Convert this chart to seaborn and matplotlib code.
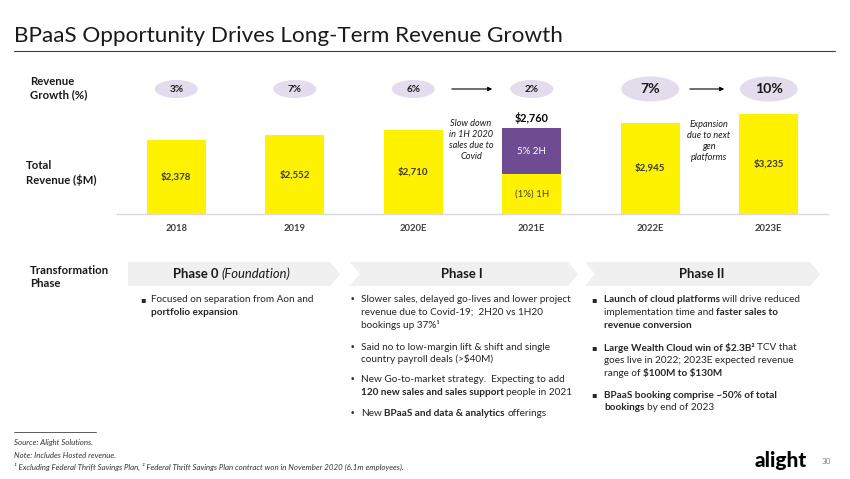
import matplotlib
matplotlib.use("Agg")
import matplotlib.pyplot as plt
import seaborn as sns
import pandas as pd
from matplotlib.patches import Ellipse, Polygon

# ---------------- data ----------------
years = ["2018", "2019", "2020E", "2021E", "2022E", "2023E"]
revenue = [2378, 2552, 2710, 2760, 2945, 3235]
growth = ["3%", "7%", "6%", "2%", "7%", "10%"]
split_year = "2021E"
first_half_2021 = 1300          # yellow 1H portion of the 2021E bar
split_labels = ["(1%) 1H", "5% 2H"]
phase_titles = [[("Phase 0", "bold", "normal"), (" (Foundation)", "normal", "italic")],
                [("Phase I", "bold", "normal")],
                [("Phase II", "bold", "normal")]]

YELLOW = "#FFF200"
PURPLE = "#6F4C91"
LAVENDER = "#E2DCEC"
CHEVRON = "#F0F0F0"
TXT = "#262626"

sns.set_theme(style="white")
plt.rcParams["font.family"] = ["Lato", "DejaVu Sans"]

fig = plt.figure(figsize=(8.5, 4.79), dpi=100)
bg = fig.add_axes([0, 0, 1, 1])
bg.set_xlim(0, 850)
bg.set_ylim(479, 0)
bg.axis("off")

# ---------------- bar chart ----------------
AX_L, AX_R, AX_B, AX_T = 117, 828, 214, 60
ax = fig.add_axes([AX_L / 850, (479 - AX_B) / 479, (AX_R - AX_L) / 850, (AX_B - AX_T) / 479])
ax.patch.set_alpha(0)

df = pd.DataFrame({"year": years, "revenue": revenue})
bar_colors = [PURPLE if y == split_year else YELLOW for y in years]
sns.barplot(data=df, x="year", y="revenue", hue="year", palette=bar_colors,
            dodge=False, width=0.5, legend=False, saturation=1, linewidth=0, ax=ax)
df_half = pd.DataFrame({"year": years,
                        "value": [first_half_2021 if y == split_year else 0 for y in years]})
sns.barplot(data=df_half, x="year", y="value", color=YELLOW, width=0.5,
            saturation=1, linewidth=0, ax=ax)

ax.set_xlim(-0.5, 5.5)
ax.set_ylim(0, 4970)
ax.set_xlabel("")
ax.set_ylabel("")
ax.set_yticks([])
for s in ["top", "left", "right"]:
    ax.spines[s].set_visible(False)
ax.spines["bottom"].set_color("#D9D9D9")
ax.spines["bottom"].set_linewidth(1.0)
ax.tick_params(axis="x", length=0, pad=7, labelsize=6.8, colors="#404040")
for t in ax.get_xticklabels():
    t.set_fontweight("bold")

for i, (y, v) in enumerate(zip(years, revenue)):
    lab = "\\$" + f"{v:,}"
    if y == split_year:
        ax.annotate(lab, (i, v), xytext=(0, 3), textcoords="offset points",
                    ha="center", va="bottom", fontsize=7.8, fontweight="bold", color="black")
        ax.text(i, first_half_2021 / 2, split_labels[0], ha="center", va="center",
                fontsize=7, color="#404040")
        ax.text(i, (first_half_2021 + v) / 2, split_labels[1], ha="center", va="center",
                fontsize=7, color="white")
    else:
        ax.text(i, v / 2, lab, ha="center", va="center", fontsize=7,
                fontweight="bold", color="#3A3A2A")

# ---------------- helpers ----------------
renderer = fig.canvas.get_renderer()


def text_width(s, size, weight, style):
    t = bg.text(0, 0, s, fontsize=size, fontweight=weight, fontstyle=style)
    w = t.get_window_extent(renderer).width
    t.remove()
    return w


def runs(x, y, parts, size, color=TXT, ha="left"):
    texts = []
    cx = x
    for s, w, st in parts:
        sp = text_width("x x", size, w, st) - text_width("xx", size, w, st)
        lead = len(s) - len(s.lstrip(" "))
        trail = len(s) - len(s.rstrip(" "))
        core = s.strip(" ")
        cx += lead * sp
        t = bg.text(cx, y, core, fontsize=size, fontweight=w, fontstyle=st,
                    color=color, va="center", ha="left")
        cx += t.get_window_extent(renderer).width + trail * sp
        texts.append(t)
    if ha == "center":
        total = cx - x
        for t in texts:
            px, py = t.get_position()
            t.set_position((px - total / 2, py))


# ---------------- title ----------------
bg.text(14, 36, "BPaaS Opportunity Drives Long-Term Revenue Growth", fontsize=16.2,
        va="center", ha="left", color="#1A1A1A")
bg.plot([14, 835], [51, 51], color="#404040", lw=0.8)

# ---------------- row labels ----------------
lab_kw = dict(fontsize=8.2, fontweight="bold", color="#1A1A1A", va="center",
              ha="left", linespacing=1.3)
bg.text(30, 88, "Revenue\nGrowth (%)", **lab_kw)
bg.text(26, 173, "Total\nRevenue (\\$M)", **lab_kw)
bg.text(30, 277, "Transformation\nPhase", **lab_kw)

# ---------------- growth ellipses ----------------
step = (AX_R - AX_L) / len(years)
for i, g in enumerate(growth):
    cx = AX_L + (i + 0.5) * step
    big = i >= 4
    w, h = (58, 25) if big else (43, 18)
    bg.add_patch(Ellipse((cx, 89), w, h, facecolor=LAVENDER, edgecolor="none"))
    bg.text(cx, 89, g, ha="center", va="center", fontsize=10.2 if big else 7.2,
            fontweight="bold", color="#1A1A1A")

arrow = dict(arrowstyle="-|>", color="black", lw=0.8, mutation_scale=6)
bg.annotate("", xy=(495, 89), xytext=(449, 89), arrowprops=arrow)
bg.annotate("", xy=(727, 89), xytext=(687, 89), arrowprops=arrow)

note_kw = dict(ha="center", va="center", fontsize=6.6, fontstyle="italic",
               color="#1A1A1A", linespacing=1.28)
bg.text(471, 140, "Slow down\nin 1H 2020\nsales due to\nCovid", **note_kw)
bg.text(709, 141, "Expansion\ndue to next\ngen\nplatforms", **note_kw)

# ---------------- chevrons ----------------
chev = [
    [(128, 262), (330, 262), (340, 274), (330, 286), (128, 286)],
    [(350, 262), (568, 262), (578, 274), (568, 286), (350, 286), (360, 274)],
    [(585, 262), (810, 262), (820, 274), (810, 286), (585, 286), (595, 274)],
]
centers = [232, 462, 702]
for pts, c, parts in zip(chev, centers, phase_titles):
    bg.add_patch(Polygon(pts, closed=True, facecolor=CHEVRON, edgecolor="none"))
    runs(c, 274, parts, 9.4, color="#1A1A1A", ha="center")

# ---------------- bullet columns ----------------
N, B = "normal", "bold"
BODY = 7.2

col1 = [
    [[("Focused on separation from Aon and", N, N)],
     [("portfolio expansion", B, N)]],
]
col2 = [
    [[("Slower sales, delayed go-lives and lower project", N, N)],
     [("revenue due to Covid-19;  2H20 vs 1H20", N, N)],
     [("bookings up 37%¹", N, N)]],
    [[("Said no to low-margin lift & shift and single", N, N)],
     [("country payroll deals (>\\$40M)", N, N)]],
    [[("New Go-to-market strategy.  Expecting to add", N, N)],
     [("120 new sales and sales support", B, N), (" people in 2021", N, N)]],
    [[("New ", N, N), ("BPaaS and data & analytics", B, N), (" offerings", N, N)]],
]
col3 = [
    [[("Launch of cloud platforms", B, N), (" will drive reduced", N, N)],
     [("implementation time and ", N, N), ("faster sales to", B, N)],
     [("revenue conversion", B, N)]],
    [[("Large Wealth Cloud win of \\$2.3B²", B, N), (" TCV that", N, N)],
     [("goes live in 2022; 2023E expected revenue", N, N)],
     [("range of ", N, N), ("\\$100M to \\$130M", B, N)]],
    [[("BPaaS booking comprise ~50% of total", B, N)],
     [("bookings", B, N), (" by end of 2023", N, N)]],
]


def column(items, xb, xt, bullet, ystarts, lh=12.6):
    for item, y0 in zip(items, ystarts):
        bg.text(xb, y0, bullet, fontsize=5.8 if bullet == "▪" else 6.4, color=TXT,
                va="center", ha="left", family=["DejaVu Sans"])
        for k, line in enumerate(item):
            runs(xt, y0 + k * lh, line, BODY)


column(col1, 140, 151, "▪", [300])
column(col2, 350, 361, "•", [300, 347, 380, 414], lh=12.3)
column(col3, 591, 604, "▪", [300, 348, 395])

# ---------------- footnotes ----------------
bg.plot([14, 96], [432, 432], color="#404040", lw=0.6)
foot_kw = dict(fontsize=5.7, fontstyle="italic", color="#333333", va="center", ha="left")
bg.text(14, 443, "Source: Alight Solutions.", **foot_kw)
bg.text(14, 455, "Note: Includes Hosted revenue.", **foot_kw)
bg.text(14, 467, "¹ Excluding Federal Thrift Savings Plan, ² Federal Thrift Savings Plan "
        "contract won in November 2020 (6.1m employees).", **foot_kw)

bg.text(781, 460, "alight", fontsize=15, fontweight="black", color="black",
        ha="center", va="center")
bg.text(826, 462, "30", fontsize=5.8, color="#808080", ha="center", va="center")

fig.savefig("out.png", dpi=100)
